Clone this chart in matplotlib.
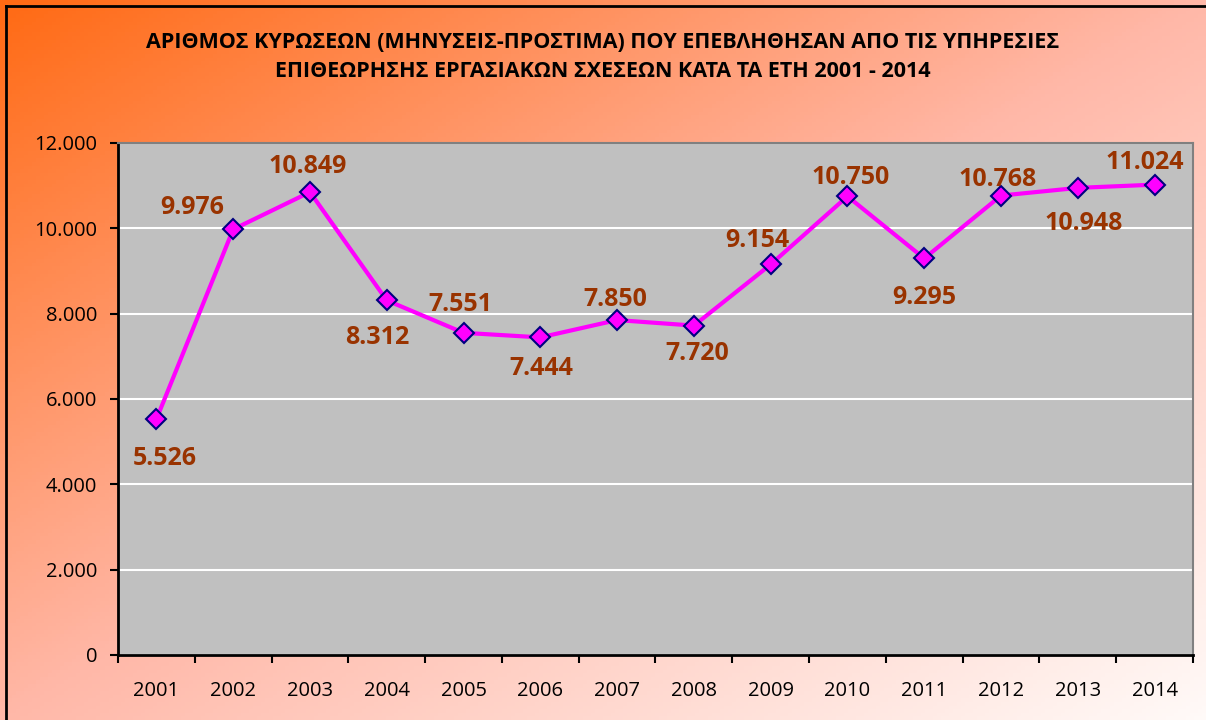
import numpy as np
import matplotlib
matplotlib.use('Agg')
import matplotlib.pyplot as plt
from matplotlib.colors import LinearSegmentedColormap

####################################
# Data
####################################

years = ['2001', '2002', '2003', '2004', '2005', '2006', '2007',
         '2008', '2009', '2010', '2011', '2012', '2013', '2014']
penalties = [5526, 9976, 10849, 8312, 7551, 7444, 7850,
             7720, 9154, 10750, 9295, 10768, 10948, 11024]
# label offsets (pixels) relative to each point
label_dx = [8, -41, -2, -10, -3, 1, -2, 3, -13, 3, 0, -3, 6, -10]
label_dy = [-39, 22, 26, -37, 28, -31, 21, -28, 24, 19, -39, 16, -36, 22]

title = ('ΑΡΙΘΜΟΣ ΚΥΡΩΣΕΩΝ (ΜΗΝΥΣΕΙΣ-ΠΡΟΣΤΙΜΑ) ΠΟΥ ΕΠΕΒΛΗΘΗΣΑΝ ΑΠΟ ΤΙΣ ΥΠΗΡΕΣΙΕΣ\n'
         'ΕΠΙΘΕΩΡΗΣΗΣ ΕΡΓΑΣΙΑΚΩΝ ΣΧΕΣΕΩΝ ΚΑΤΑ ΤΑ ΕΤΗ 2001 - 2014')

plt.rcParams['font.family'] = ['Open Sans', 'DejaVu Sans']

W, H = 1206, 720
fig = plt.figure(figsize=(W / 100, H / 100), dpi=100)

# gradient background
bg = fig.add_axes([0, 0, 1, 1], zorder=-10)
gx, gy = np.meshgrid(np.linspace(0, 1, 300), np.linspace(0, 1, 200))
t = (gx + gy) / 2
cmap = LinearSegmentedColormap.from_list('bg', [(0, '#ff6a14'), (0.5, '#ffb8a8'), (1, '#fffaf8')])
bg.imshow(t, cmap=cmap, aspect='auto', extent=[0, 1, 1, 0])
bg.set_xlim(0, 1)
bg.set_ylim(1, 0)
bg.axis('off')
# black frame at top and left (axes coords: y=1 is top)
bg.plot([6 / W, 6 / W], [0, 1 - 6 / H], color='black', lw=2, transform=bg.transAxes, clip_on=False)
bg.plot([6 / W, 1], [1 - 6 / H, 1 - 6 / H], color='black', lw=2, transform=bg.transAxes, clip_on=False)

ax = fig.add_axes([118 / W, 1 - 655 / H, (1193 - 118) / W, (655 - 143) / H])
ax.set_facecolor('#c0c0c0')
x = np.arange(len(years))
ax.plot(x, penalties, color='#ff00ff', lw=3, marker='D', ms=10,
        markerfacecolor='#ff00ff', markeredgecolor='#000080', markeredgewidth=1.5, zorder=3)

for i, v in enumerate(penalties):
    ax.annotate(f'{v:,}'.replace(',', '.'), (x[i], v),
                xytext=(label_dx[i], label_dy[i]), textcoords='offset pixels',
                ha='center', va='center', fontsize=18, fontweight='bold', color='#993300')

ax.set_xlim(-0.5, len(years) - 0.5)
ax.set_ylim(0, 12000)
ax.set_yticks(range(0, 12001, 2000))
ax.set_yticklabels([f'{v:,}'.replace(',', '.') for v in range(0, 12001, 2000)], fontsize=14.5)
ax.yaxis.grid(True, color='white', lw=1.5)
ax.set_axisbelow(True)

ax.set_xticks(x)
ax.set_xticklabels(years, fontsize=14.5)
ax.tick_params(axis='x', which='major', length=0, pad=19)
ax.set_xticks(np.arange(-0.5, len(years), 1), minor=True)
ax.tick_params(axis='x', which='minor', length=6, width=1.5, direction='out')
ax.tick_params(axis='y', length=6, width=1.5, pad=9)

for s in ['left', 'bottom']:
    ax.spines[s].set_color('black')
    ax.spines[s].set_linewidth(2)
for s in ['top', 'right']:
    ax.spines[s].set_color('#808080')
    ax.spines[s].set_linewidth(1.5)

fig.text(0.5, 1 - 57 / H, title, ha='center', va='center', fontsize=15.5,
         fontweight='bold', linespacing=1.55)

fig.savefig('out.png', dpi=100)
